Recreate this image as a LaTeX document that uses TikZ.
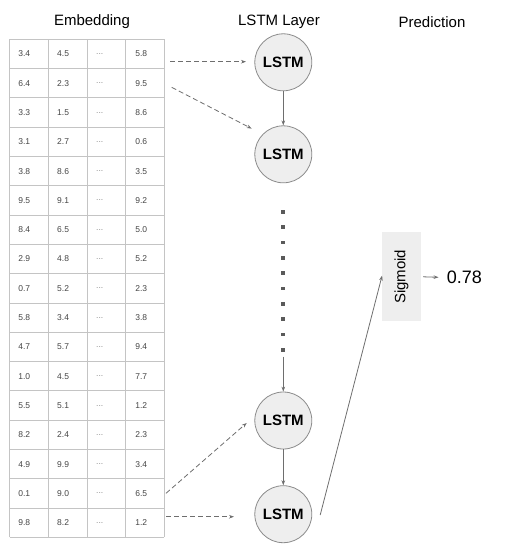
\documentclass[tikz,border=0pt]{standalone}
\usepackage{fontspec}
\setmainfont{Liberation Sans}
\usetikzlibrary{arrows.meta}
\definecolor{linegray}{HTML}{6E6E6E}
\definecolor{gridgray}{HTML}{C4C4C4}
\definecolor{cellfill}{HTML}{EEEEEE}
\definecolor{celltext}{HTML}{444444}
\definecolor{dotgray}{HTML}{8A8A8A}
\definecolor{dotfill}{HTML}{5A5A5A}
\begin{document}
\begin{tikzpicture}[x=1pt,y=-1pt,
  title/.style={font=\fontsize{15}{18}\selectfont, text=black, inner sep=0pt},
  cell/.style={font=\fontsize{8.5}{10}\selectfont, text=celltext, inner sep=0pt, anchor=west},
  celldots/.style={cell, text=dotgray},
  gridline/.style={draw=gridgray, line width=0.9pt},
  lstm/.style={circle, draw=linegray!80, fill=cellfill, line width=0.8pt, minimum size=57pt, inner sep=0pt,
    font=\fontsize{15}{18}\selectfont\bfseries},
  sig/.style={fill=cellfill, minimum width=89pt, minimum height=38.4pt, inner sep=0pt, rotate=90,
    font=\fontsize{15}{18}\selectfont},
  arr/.style={draw=linegray, line width=0.8pt, -{Stealth[length=5pt,width=3.6pt]}},
  darr/.style={arr, dash pattern=on 5pt off 3pt},
  dotsq/.style={fill=dotfill, draw=none}
]
\useasboundingbox (0,0) rectangle (518,557);
% titles
\node[title] (tEmb) at (92,22) {Embedding};
\node[title] (tLstm) at (279,22) {LSTM Layer};
\node[title] (tPred) at (432,22) {Prediction};
% table grid
\foreach \i in {0,...,17} {
  \draw[gridline] (9.7,39.3+\i*29.3) -- (164.3,39.3+\i*29.3);
}
\foreach \x in {9.7,48.4,87.0,125.7,164.3} {
  \draw[gridline] (\x,39.3) -- (\x,537.4);
}
% table contents
\foreach \r/\a/\b/\c in {1/3.4/4.5/5.8, 2/6.4/2.3/9.5, 3/3.3/1.5/8.6, 4/3.1/2.7/0.6, 5/3.8/8.6/3.5,
  6/9.5/9.1/9.2, 7/8.4/6.5/5.0, 8/2.9/4.8/5.2, 9/0.7/5.2/2.3, 10/5.8/3.4/3.8, 11/4.7/5.7/9.4,
  12/1.0/4.5/7.7, 13/5.5/5.1/1.2, 14/8.2/2.4/2.3, 15/4.9/9.9/3.4, 16/0.1/9.0/6.5, 17/9.8/8.2/1.2} {
  \node[cell] (c\r a) at (18.2,39.3+\r*29.3-14.65) {\a};
  \node[cell] (c\r b) at (57.0,39.3+\r*29.3-14.65) {\b};
  \node[celldots] (c\r c) at (96.0,39.3+\r*29.3-14.65) {...};
  \node[cell] (c\r d) at (135.2,39.3+\r*29.3-14.65) {\c};
}
% LSTM nodes
\node[lstm] (l1) at (283.3,62.3) {LSTM};
\node[lstm] (l2) at (283.3,154.3) {LSTM};
\node[lstm] (l3) at (283.3,420.5) {LSTM};
\node[lstm] (l4) at (283.3,514.2) {LSTM};
% dotted column
\foreach \k in {0,...,9} {
  \fill[dotsq] (281.4,209.8+\k*15.35) rectangle ++(3.8,3.8);
}
\coordinate (dotsend) at (283.3,356.5);
\draw[arr] (l1) -- (l2);
\draw[arr] (dotsend) -- (l3);
\draw[arr] (l3) -- (l4);
% dashed inputs
\coordinate (s1) at (170,61.7);
\coordinate (e1) at (246,61.7);
\coordinate (s2) at (171.7,87.3);
\coordinate (e2) at (251.7,128.6);
\coordinate (s3) at (166,493.3);
\coordinate (e3) at (246.7,423);
\coordinate (s4) at (166,516.7);
\coordinate (e4) at (234,516.7);
\draw[darr] (s1) -- (e1);
\draw[darr] (s2) -- (e2);
\draw[darr] (s3) -- (e3);
\draw[darr] (s4) -- (e4);
% sigmoid and output
\node[sig] (sig) at (401.5,276.8) {Sigmoid};
\node[font=\fontsize{18}{21}\selectfont, inner sep=0pt] (out) at (464.3,277.3) {0.78};
\draw[arr] ([xshift=2.3pt]sig.south) -- ([xshift=-8pt]out.west);
\draw[arr] ([xshift=8pt,yshift=-0.8pt]l4.east) -- ([yshift=1.2pt]sig.north);
\end{tikzpicture}
\end{document}
